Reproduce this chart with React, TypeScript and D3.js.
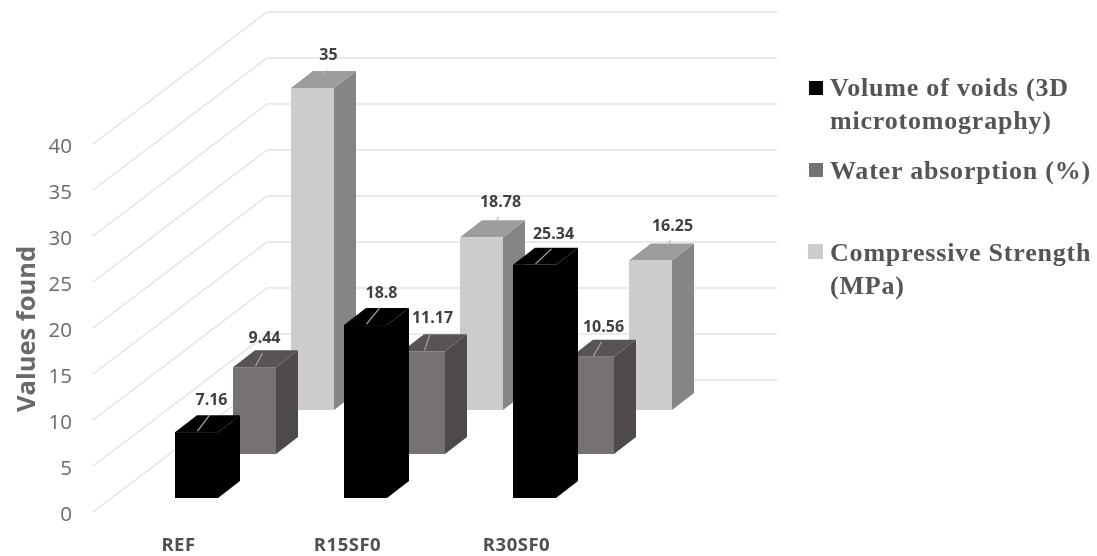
import React from "react";
import * as d3 from "d3";

const categories = ["REF", "R15SF0", "R30SF0"];
const seriesNames = ["voids", "water", "strength"];
const voidsValues = [7.16, 18.8, 25.34];
const waterValues = [9.44, 11.17, 10.56];
const strengthValues = [35, 18.78, 16.25];
const yTicks = [0, 5, 10, 15, 20, 25, 30, 35, 40];
const allValues = [voidsValues, waterValues, strengthValues];

// styling per series (not data)
const palette = [
  { front: "#000000", side: "#000000", top: "#000000", leader: "#a8a8a8" },
  { front: "#767272", side: "#4e4a4a", top: "#585454", leader: "#a0a0a0" },
  { front: "#cdcbcc", side: "#858585", top: "#9c9c9c", leader: "#b5b5b5" },
];
// hand placement of the data labels relative to each bar's front-top centre
const labelNudge = [
  [[15, -33], [16, -33], [19, -32]],
  [[10, -30], [9, -34], [11, -31]],
  [[16, -34], [19, -36], [22, -36]],
];

const W = 1097, H = 556;
const wallX = 93, wallY0 = 512;
const backDx = 174, backDy = -132, gridRight = 777;
const barW = 43, sideDx = 22, sideDy = -17;
const floorDx = 82, floorDy = -14;

const h = d3.scaleLinear().domain([0, 40]).range([0, 368]);
const xCat = d3.scalePoint<string>().domain(categories).range([wallX + floorDx, wallX + floorDx + 338]);
const depth = d3.scalePoint<string>().domain(seriesNames).range([0, 2 / 3]);
const line = d3.line();

const poly = (pts: [number, number][]) => line(pts) + "Z";

const legend = [
  { y: 81, x: 809, s: 14, fill: "#000000", lines: [["Volume of voids (3D", 96], ["microtomography)", 129]] },
  { y: 163, x: 809, s: 14, fill: "#767272", lines: [["Water absorption (%)", 179]] },
  { y: 244, x: 808, s: 15, fill: "#cdcbcc", lines: [["Compressive Strength", 261], ["(MPa)", 294]] },
];

export default function App() {
  const sans = "'Open Sans', sans-serif";
  const order = [2, 1, 0];
  return (
    <svg width={W} height={H} style={{ position: "absolute", left: 0, top: 0, background: "#fff", filter: "blur(0.4px)" }}>
      {yTicks.map((t) => {
        const y = wallY0 - h(t);
        return (
          <g key={t}>
            <path
              d={line([[wallX, y], [wallX + backDx, y + backDy], [gridRight, y + backDy]])!}
              fill="none"
              stroke="#e3e3e3"
              strokeWidth={1.4}
            />
            <text x={72} y={y + 9} textAnchor="end" fontFamily={sans} fontSize={20.5} fill="#6c6c6c">
              {t}
            </text>
          </g>
        );
      })}
      {order.map((si) => {
        const c = palette[si];
        const d = depth(seriesNames[si])!;
        const ox = d * backDx, oy = d * backDy;
        return (
          <g key={si}>
            {allValues[si].map((v, ci) => {
              const x0 = xCat(categories[ci])! + ox;
              const yb = wallY0 + floorDy + oy;
              const yt = yb - h(v);
              const x1 = x0 + barW;
              return (
                <g key={ci}>
                  <path d={poly([[x1, yb], [x1 + sideDx, yb + sideDy], [x1 + sideDx, yt + sideDy], [x1, yt]])} fill={c.side} />
                  <path d={poly([[x0, yt], [x0 + sideDx, yt + sideDy], [x1 + sideDx, yt + sideDy], [x1, yt]])} fill={c.top} />
                  <rect x={x0} y={yt} width={barW} height={yb - yt} fill={c.front} />
                </g>
              );
            })}
          </g>
        );
      })}
      {order.map((si) =>
        allValues[si].map((v, ci) => {
          const d = depth(seriesNames[si])!;
          const cx = xCat(categories[ci])! + d * backDx + barW / 2;
          const yt = wallY0 + floorDy + d * backDy - h(v);
          const [nx, ny] = labelNudge[si][ci];
          const lx = cx + nx, ly = yt + ny;
          const end: [number, number] = [lx - 2, ly + 16];
          const start: [number, number] = si === 2 ? [lx - 5, ly + 21] : [cx + 1, yt - 1];
          return (
            <g key={`${si}-${ci}`}>
              <path d={line([start, end])!} stroke={palette[si].leader} strokeWidth={1.2} fill="none" />
              <text x={lx} y={ly + 6} textAnchor="middle" fontFamily={sans} fontWeight={700} fontSize={16} fill="#404040">
                {v}
              </text>
            </g>
          );
        })
      )}
      {categories.map((c) => (
        <text
          key={c}
          x={xCat(c)! + 3.5}
          y={550.5}
          textAnchor="middle"
          fontFamily={sans}
          fontWeight={700}
          fontSize={18.5}
          letterSpacing={0.5}
          fill="#505050"
        >
          {c}
        </text>
      ))}
      <text
        transform="translate(35,329) rotate(-90)"
        textAnchor="middle"
        fontFamily={sans}
        fontWeight={700}
        fontSize={25.5}
        fill="#6a6a6a"
      >
        Values found
      </text>
      {legend.map((l, i) => (
        <g key={i}>
          <rect x={l.x} y={l.y} width={l.s} height={l.s} fill={l.fill} />
          {l.lines.map(([t, y]) => (
            <text
              key={t as string}
              x={830}
              y={y as number}
              fontFamily="'Liberation Serif', serif"
              fontWeight={700}
              fontSize={26}
              letterSpacing={0.8}
              fill="#555555"
            >
              {t}
            </text>
          ))}
        </g>
      ))}
    </svg>
  );
}
